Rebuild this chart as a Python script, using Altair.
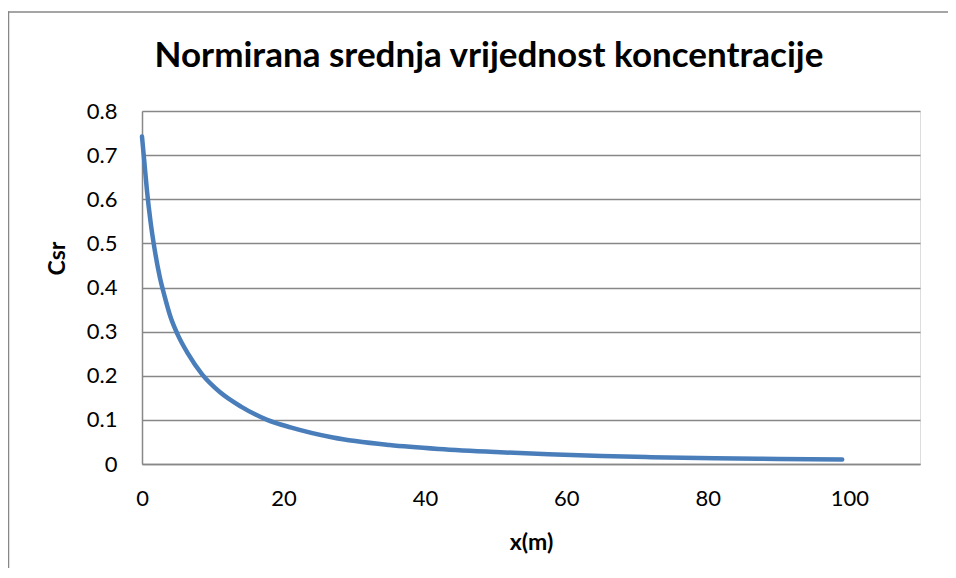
import altair as alt
import pandas as pd

# Values
x_m = [0, 0.3, 0.7, 1.2, 1.8, 2.5, 3.2, 4.0, 5.0, 6.5, 8.5, 11, 14, 17.7, 21,
       27, 35, 42, 50, 57.5, 65, 72, 81, 90, 99]
csr = [0.742, 0.69, 0.62, 0.55, 0.485, 0.425, 0.38, 0.335, 0.295, 0.25, 0.203,
       0.163, 0.13, 0.10, 0.083, 0.060, 0.043, 0.034, 0.027, 0.022, 0.018,
       0.0155, 0.013, 0.0115, 0.010]
x_ticks = [0, 20, 40, 60, 80, 100]
y_ticks = [0, 0.1, 0.2, 0.3, 0.4, 0.5, 0.6, 0.7, 0.8]

title_text = "Normirana srednja vrijednost koncentracije"

df = pd.DataFrame({"x": x_m, "Csr": csr})

W, H = 778, 353
PAD = {"left": 134, "top": 103, "right": 28, "bottom": 104}
GRID = "#878787"
FONT = "Lato"

line = alt.Chart(df).mark_line(
    color="#4a7ebb", strokeWidth=4.5, strokeCap="round", interpolate="monotone"
).encode(
    x=alt.X("x:Q",
            scale=alt.Scale(domain=[0, 110], nice=False, zero=True),
            axis=alt.Axis(values=x_ticks, grid=False, ticks=False,
                          domainColor=GRID, domainWidth=1.5,
                          labelFont=FONT, labelFontSize=22, labelColor="black",
                          labelPadding=24, labelFlush=False,
                          title="x(m)", titleFont=FONT, titleFontSize=23,
                          titleFontWeight="bold", titleColor="black",
                          titleX=W / 2, titleY=85, titleBaseline="alphabetic",
                          titleAnchor="middle", titleAlign="center")),
    y=alt.Y("Csr:Q",
            scale=alt.Scale(domain=[0, 0.8], nice=False),
            axis=alt.Axis(values=y_ticks, grid=True, gridColor=GRID,
                          gridWidth=1.5, ticks=False, format=".1~f",
                          domainColor=GRID, domainWidth=1.5,
                          labelFont=FONT, labelFontSize=22, labelColor="black",
                          labelPadding=25, labelFlush=False,
                          title="Csr", titleFont=FONT, titleFontSize=23,
                          titleFontWeight="bold", titleColor="black",
                          titleAngle=270, titleX=-78, titleY=147,
                          titleBaseline="alphabetic", titleAlign="center")),
)

# Outer chart border: only the left and top edges are visible in the reference
border_left = alt.Chart(alt.Data(values=[{}])).mark_rect(
    color=GRID, strokeWidth=0
).encode(x=alt.value(-134.25), x2=alt.value(-132.75),
         y=alt.value(-99.75), y2=alt.value(H + PAD["bottom"]))

border_top = alt.Chart(alt.Data(values=[{}])).mark_rect(
    color=GRID, strokeWidth=0
).encode(x=alt.value(-134.25), x2=alt.value(W + PAD["right"]),
         y=alt.value(-99.75), y2=alt.value(-98.25))

title = alt.Chart(alt.Data(values=[{"t": title_text}])).mark_text(
    font=FONT, fontSize=35, fontWeight="bold", color="black",
    align="center", baseline="alphabetic"
).encode(
    text="t:N", x=alt.value(W / 2 - 42), y=alt.value(-44),
)

chart = alt.layer(border_left, border_top, line, title).properties(
    width=W, height=H,
    autosize=alt.AutoSizeParams(type="none"),
    padding=PAD,
).configure_view(strokeWidth=0).configure(background="white")

chart.save("out.html", embed_options={"renderer": "svg", "actions": False})
